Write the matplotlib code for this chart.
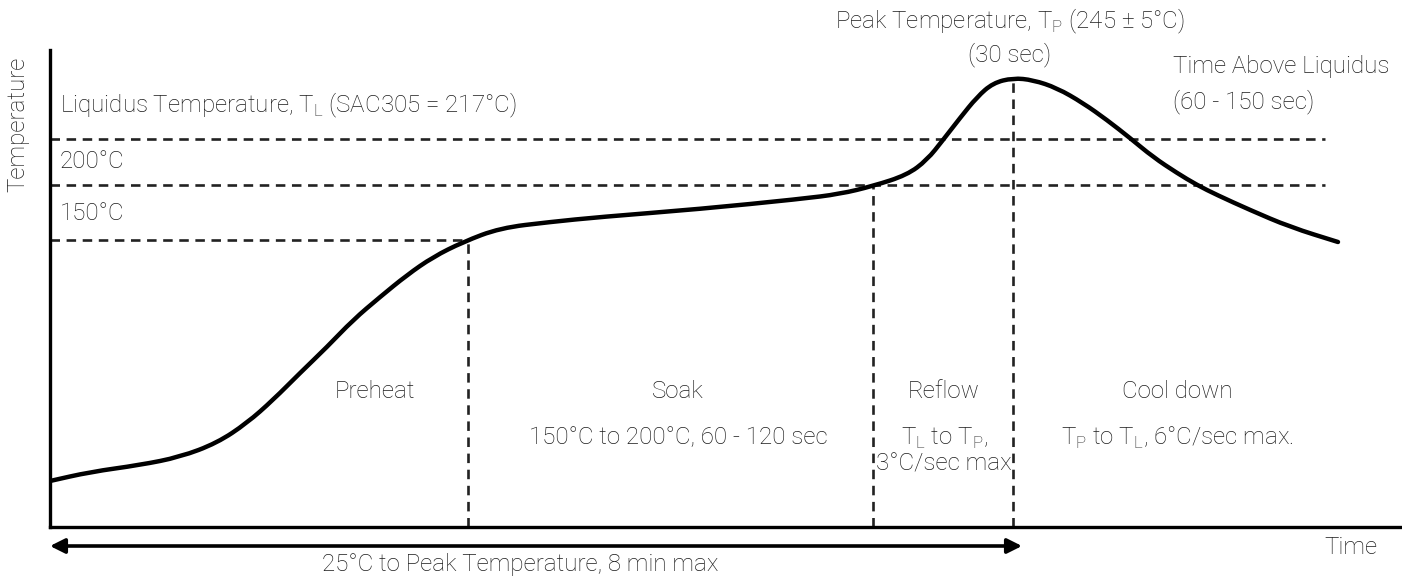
import matplotlib
matplotlib.use("Agg")
import matplotlib.pyplot as plt
from matplotlib.path import Path
from matplotlib.patches import PathPatch

plt.rcParams['font.family'] = ['Roboto', 'DejaVu Sans']
plt.rcParams['mathtext.fontset'] = 'custom'
plt.rcParams['mathtext.rm'] = 'Roboto'

# ---- data (schematic units: x = time, y = temperature) ----
curve_time = [0, 40, 90, 130, 167, 197, 223, 250, 277, 303, 330, 357, 383, 413,
              450, 500, 550, 650, 750, 790, 823, 857, 877, 893, 910, 927, 943,
              963, 983, 1007, 1033, 1057, 1080, 1103, 1127, 1147, 1167, 1200,
              1240, 1288]
curve_temp = [46, 55, 62, 70, 84, 104, 127, 154, 180, 207, 230, 252, 270, 285,
              299, 305, 310, 318, 328, 333, 341, 352, 367, 387, 409, 430, 444,
              449, 447, 439, 424, 407, 389, 370, 354, 342, 332, 317,
              300, 285]

level_labels = ["Liquidus Temperature, T$_\\mathregular{L}$ (SAC305 = 217°C)",
                "200°C", "150°C"]
level_y = [388, 342, 287]          # 217, 200, 150 °C levels
level_xmax = [1275, 1275, 418]
phase_x = [418, 823, 963]          # end of preheat, soak, reflow
phase_ymax = [287, 341, 449]

phase_names = ["Preheat", "Soak", "Reflow", "Cool down"]
phase_name_x = [325, 628, 894, 1127]
phase_notes = ["", "150°C to 200°C, 60 - 120 sec",
               "T$_\\mathregular{L}$ to T$_\\mathregular{P}$,\n3°C/sec max",
               "T$_\\mathregular{P}$ to T$_\\mathregular{L}$, 6°C/sec max."]

W, H = 1402, 578
fig = plt.figure(figsize=(W / 100, H / 100), dpi=100)
x0, y0, y1 = 50, 527, 50
ax = fig.add_axes([x0 / W, (H - y0) / H, (W - x0) / W, (y0 - y1) / H])
ax.set_xlim(0, W - x0)
ax.set_ylim(0, y0 - y1)
ax.set_xticks([])
ax.set_yticks([])
for s in ['top', 'right']:
    ax.spines[s].set_visible(False)
for s in ['left', 'bottom']:
    ax.spines[s].set_linewidth(2.4)
    ax.spines[s].set_color('black')

fs = 17.4
tc = '#1c1c1c'
tkw = dict(fontsize=fs, fontweight='light', color=tc)
dash = (0, (3.6, 2.5))

for y, xm in zip(level_y, level_xmax):
    ax.plot([0, xm], [y, y], color='#222222', lw=1.9, ls=dash, zorder=2)
for x, ym in zip(phase_x, phase_ymax):
    ax.plot([x, x], [0, ym], color='#222222', lw=1.9, ls=dash, zorder=2)

# smooth curve: quadratic Bezier through midpoints of the read points
pts = list(zip(curve_time, curve_temp))
verts = [pts[0]]
codes = [Path.MOVETO]
mid = lambda a, b: ((a[0] + b[0]) / 2, (a[1] + b[1]) / 2)
verts.append(mid(pts[0], pts[1]))
codes.append(Path.LINETO)
for i in range(1, len(pts) - 1):
    verts += [pts[i], mid(pts[i], pts[i + 1])]
    codes += [Path.CURVE3, Path.CURVE3]
verts.append(pts[-1])
codes.append(Path.LINETO)
ax.add_patch(PathPatch(Path(verts, codes), facecolor='none', edgecolor='black',
                       lw=3.2, capstyle='round', joinstyle='round', zorder=3))

# level labels
ax.text(10, 422, level_labels[0], ha='left', va='center', **tkw)
ax.text(10, 365, level_labels[1], ha='left', va='center', **tkw)
ax.text(10, 314, level_labels[2], ha='left', va='center', **tkw)

# phase labels
for xn, name, note in zip(phase_name_x, phase_names, phase_notes):
    ax.text(xn, 136, name, ha='center', va='center', **tkw)
    if note:
        lines = note.split('\n')
        for k, ln in enumerate(lines):
            ax.text(xn, 89 - 26 * k, ln, ha='center', va='center', **tkw)

# peak annotations
ax.text(960, 506, "Peak Temperature, T$_\\mathregular{P}$ (245 ± 5°C)",
        ha='center', va='center', clip_on=False, **tkw)
ax.text(960, 472, "(30 sec)", ha='center', va='center', **tkw)
ax.text(1123, 460, "Time Above Liquidus", ha='left', va='center', **tkw)
ax.text(1123, 425, "(60 - 150 sec)", ha='left', va='center', **tkw)

# axis titles
ax.text(1327, -21, "Time", ha='right', va='center', clip_on=False, **tkw)
fig.text(18 / W, 1 - 124 / H, "Temperature", rotation=90, ha='center',
         va='center', **tkw)

# overall time arrow
ax.annotate("", xy=(0, -19), xytext=(972, -19), xycoords='data',
            annotation_clip=False,
            arrowprops=dict(arrowstyle='<|-|>', color='black', lw=2.6,
                            mutation_scale=22, shrinkA=0, shrinkB=0))
ax.text(470, -37, "25°C to Peak Temperature, 8 min max", ha='center',
        va='center', clip_on=False, **tkw)

fig.savefig("out.png", dpi=100)
